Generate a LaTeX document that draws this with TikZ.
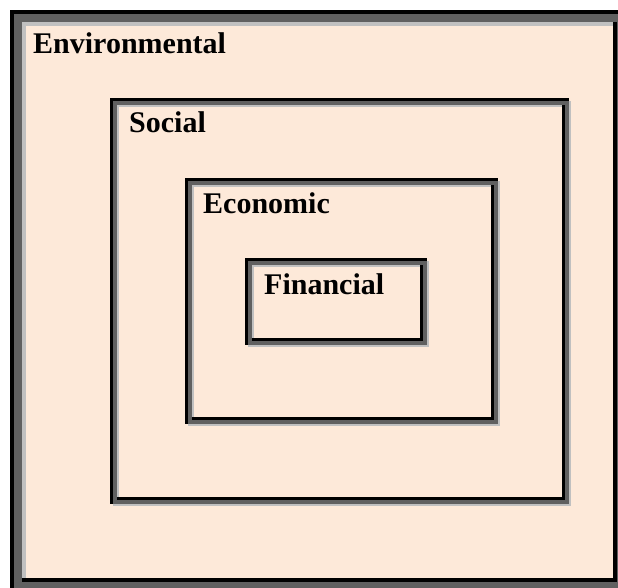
\documentclass[tikz,border=0pt]{standalone}
\usepackage{fontspec}
\setmainfont{Liberation Serif}
\usepackage{xcolor}
\usepackage{tikz}

\definecolor{peach}{HTML}{FDE9D9}
\definecolor{shadegray}{HTML}{606060}
\definecolor{rimgray}{HTML}{C0C0C0}

% x1, y1, x2, y2, black, gray, light
\newcommand{\layerbox}[7]{%
	\fill[peach] (#1,#2) rectangle (#3,#4);
	\fill[rimgray] (#1+#5,#4) rectangle (#3+#7,#4+#7);
	\fill[rimgray] (#3,#2+#5) rectangle (#3+#7,#4+#7);
	\fill[shadegray] (#1,#2) rectangle (#3,#2+#5+#6);
	\fill[shadegray] (#1,#2) rectangle (#1+#5+#6,#4);
	\fill[shadegray] (#1,#4-#6) rectangle (#3,#4);
	\fill[shadegray] (#3-#6,#2) rectangle (#3,#4);
	\fill[black] (#1,#2) rectangle (#3,#2+#5);
	\fill[black] (#1,#2) rectangle (#1+#5,#4);
	\fill[black] (#1+#5+#6,#4-#6-#5) rectangle (#3-#6,#4-#6);
	\fill[black] (#3-#6-#5,#2+#5+#6) rectangle (#3-#6,#4-#6);
	\fill[rimgray] (#1+#5+#6,#2+#5+#6) rectangle (#3-#6-#5,#2+#5+#6+#7);
	\fill[rimgray] (#1+#5+#6,#2+#5+#6) rectangle (#1+#5+#6+#7,#4-#6-#5);
}

\begin{document}
\begin{tikzpicture}[x=1pt,y=-1pt]
\tikzstyle{layer name} = [anchor=base west, inner sep=0pt, font=\bfseries\fontsize{30}{36}\selectfont]
%
	\useasboundingbox (0,0) rectangle (618,588);
	\fill[white] (0,0) rectangle (618,588);

	\layerbox{10}{10}{625}{590}{4}{8}{4}
	\layerbox{110}{98}{569}{504}{3}{4}{2}
	\layerbox{185}{178}{498}{424}{3}{4}{2}
	\layerbox{245}{258}{427}{345}{3}{4}{2}

	\node[layer name] (environmental) at (33,54) {Environmental};
	\node[layer name] (social) at (129,133) {Social};
	\node[layer name] (economic) at (203,214) {Economic};
	\node[layer name] (financial) at (264,294) {Financial};
\end{tikzpicture}
\end{document}
